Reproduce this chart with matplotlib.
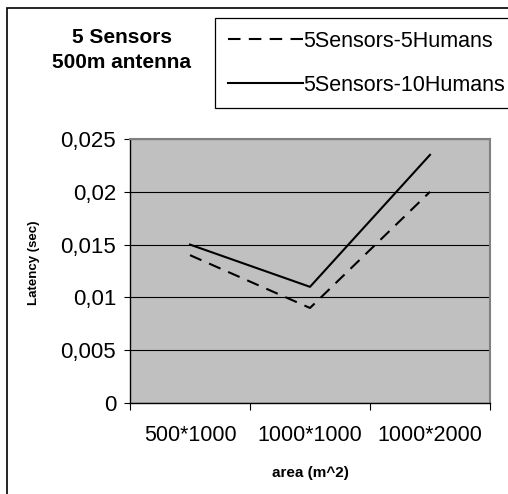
#!/usr/bin/env python3
"""Latency vs area, 5 sensors with 500m antenna."""

import matplotlib
matplotlib.use('Agg')
import matplotlib.pyplot as plt
from matplotlib.patches import Rectangle
from matplotlib.ticker import FixedLocator, FuncFormatter
import numpy as np

areas = ["500*1000", "1000*1000", "1000*2000"]
humans5 = [0.014, 0.009, 0.020]
humans10 = [0.015, 0.011, 0.0235]
series_labels = ["5Sensors-5Humans", "5Sensors-10Humans"]

plt.rcParams['font.family'] = ['Liberation Sans', 'DejaVu Sans']

W, H = 508, 494
fig = plt.figure(figsize=(W / 100, H / 100), dpi=100)
ax = fig.add_axes([130 / W, 91 / H, 360 / W, 264 / H])

x = np.arange(len(areas))
ax.set_facecolor("#c0c0c0")
ax.plot(x, humans5, color="black", lw=1.5, linestyle=(0, (6, 4)),
        label=series_labels[0])
ax.plot(x, humans10, color="black", lw=1.5, label=series_labels[1])

ax.set_xlim(-0.5, 2.5)
ax.set_ylim(0, 0.025)
ax.set_yticks(np.arange(0, 0.0251, 0.005))
ax.yaxis.set_major_formatter(FuncFormatter(
    lambda v, p: "0" if v == 0 else f"{v:.3f}".rstrip("0").replace(".", ",")))
ax.yaxis.grid(True, color="black", lw=0.8)
ax.set_axisbelow(True)
ax.tick_params(axis="y", length=4, width=0.8, labelsize=16, pad=6)

ax.set_xticks(x)
ax.set_xticklabels(areas)
ax.xaxis.set_minor_locator(FixedLocator([-0.5, 0.5, 1.5, 2.5]))
ax.tick_params(axis="x", which="major", length=0, labelsize=15.5, pad=16)
ax.tick_params(axis="x", which="minor", length=5, width=0.8)

for s in ["left", "bottom"]:
    ax.spines[s].set_color("black")
    ax.spines[s].set_linewidth(1.0)
for s in ["top", "right"]:
    ax.spines[s].set_color("#808080")
    ax.spines[s].set_linewidth(1.5)

ax.set_ylabel("Latency (sec)", fontsize=9.5, fontweight="bold")
ax.yaxis.set_label_coords(-0.25, 0.53)
ax.set_xlabel("area (m^2)", fontsize=11, fontweight="bold", labelpad=14)

fig.text(122 / W, 1 - 50 / H, "5 Sensors\n500m antenna", ha="center",
         va="center", fontsize=15, fontweight="bold", linespacing=1.45)

leg = fig.legend(loc="upper left", bbox_to_anchor=(215 / W, 1 - 18 / H),
                 fontsize=15.5, handlelength=3.5, handletextpad=0.0,
                 labelspacing=1.05, borderpad=0.6, borderaxespad=0,
                 fancybox=False, framealpha=1, edgecolor="black")
leg.get_frame().set_linewidth(0.9)

# outer chart frame, runs off the right and bottom of the picture
fig.patches.append(Rectangle((7 / W, -0.1), 1.2, 1 - 8 / H + 0.1,
                             transform=fig.transFigure, fill=False,
                             edgecolor="black", lw=1.2))

fig.savefig("out.png", dpi=100)
